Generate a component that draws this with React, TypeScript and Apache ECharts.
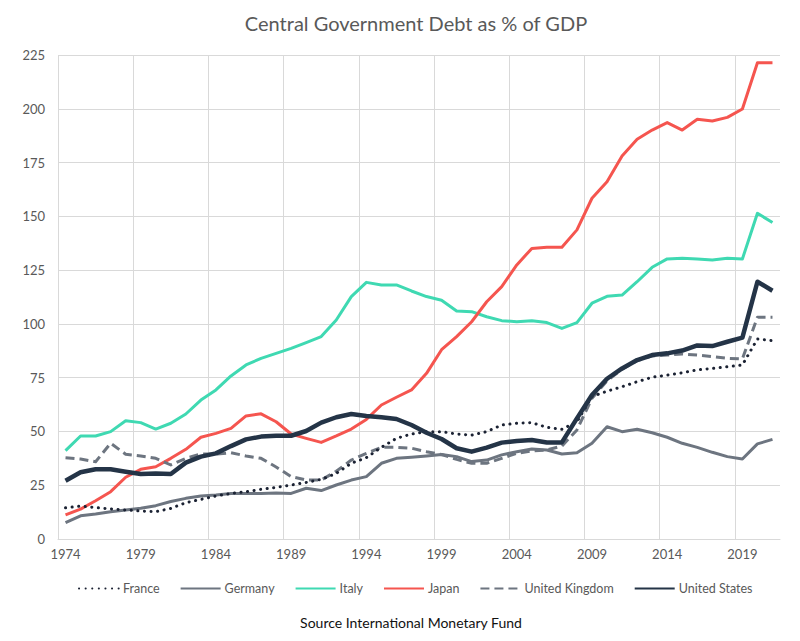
import React, { useEffect, useRef } from "react";
import * as echarts from "echarts";

const years = [
  "1974", "1975", "1976", "1977", "1978", "1979", "1980", "1981", "1982", "1983",
  "1984", "1985", "1986", "1987", "1988", "1989", "1990", "1991", "1992", "1993",
  "1994", "1995", "1996", "1997", "1998", "1999", "2000", "2001", "2002", "2003",
  "2004", "2005", "2006", "2007", "2008", "2009", "2010", "2011", "2012", "2013",
  "2014", "2015", "2016", "2017", "2018", "2019", "2020", "2021",
];

const france = [
  14.5, 15.3, 14.6, 14.0, 13.5, 13.0, 12.7, 14.2, 16.9, 18.4,
  20.0, 21.2, 22.0, 23.1, 24.0, 25.1, 26.3, 27.7, 30.5, 35.2,
  37.8, 42.6, 46.8, 48.8, 49.9, 49.9, 48.8, 48.3, 49.9, 53.0,
  53.8, 54.1, 51.9, 51.0, 54.5, 66.2, 68.7, 70.8, 73.1, 75.2,
  76.2, 77.3, 78.6, 79.3, 80.1, 80.9, 93.0, 92.2,
];

const germany = [
  7.6, 10.8, 11.6, 12.7, 13.5, 14.3, 15.5, 17.4, 18.9, 20.0,
  20.5, 21.2, 21.2, 21.2, 21.4, 21.2, 23.6, 22.5, 25.1, 27.4,
  29.0, 35.2, 37.5, 38.0, 38.6, 39.3, 38.3, 36.0, 36.7, 39.1,
  40.6, 41.8, 41.4, 39.5, 40.1, 44.5, 52.2, 49.9, 51.0, 49.4,
  47.3, 44.5, 42.6, 40.3, 38.3, 37.2, 44.2, 46.3,
];

const italy = [
  41.1, 47.9, 47.9, 49.9, 55.0, 54.1, 51.1, 53.8, 58.1, 64.6,
  69.3, 75.8, 80.9, 84.0, 86.3, 88.6, 91.3, 94.1, 101.8, 112.7,
  119.3, 118.1, 118.1, 115.3, 112.7, 111.0, 106.0, 105.7, 103.3, 101.5,
  101.0, 101.5, 100.6, 97.9, 100.6, 109.6, 112.8, 113.4, 119.6, 126.3,
  130.2, 130.5, 130.2, 129.7, 130.5, 130.2, 151.4, 147.1,
];

const japan = [
  11.2, 13.9, 17.8, 22.0, 28.7, 32.4, 33.6, 37.5, 41.7, 47.3,
  49.1, 51.4, 57.2, 58.2, 54.5, 48.8, 46.8, 44.9, 47.9, 51.1,
  55.6, 62.3, 65.9, 69.3, 77.0, 88.0, 94.1, 101.0, 110.3, 117.3,
  127.4, 135.1, 135.6, 135.6, 143.7, 158.4, 166.1, 178.1, 185.8, 190.1,
  193.6, 190.1, 195.1, 194.3, 196.0, 199.9, 221.4, 221.4,
];

const unitedKingdom = [
  37.8, 37.2, 35.9, 44.5, 39.4, 38.6, 37.5, 34.4, 37.5, 39.5,
  39.5, 40.1, 38.6, 37.5, 33.5, 29.0, 27.4, 27.4, 31.5, 36.7,
  39.8, 42.6, 42.6, 42.2, 40.6, 39.3, 37.0, 35.2, 35.2, 37.5,
  39.8, 40.9, 41.4, 43.2, 50.7, 65.4, 73.5, 78.9, 82.9, 85.1,
  85.5, 86.0, 85.5, 84.8, 84.0, 83.7, 103.1, 103.1,
];

const unitedStates = [
  27.1, 31.0, 32.4, 32.4, 31.3, 30.2, 30.5, 30.2, 35.5, 38.3,
  39.8, 43.2, 46.3, 47.6, 48.0, 48.0, 50.2, 54.1, 56.6, 58.1,
  57.2, 56.6, 55.8, 53.0, 49.4, 46.5, 42.2, 40.6, 42.5, 44.8,
  45.6, 46.0, 44.9, 44.9, 56.1, 66.9, 74.5, 79.3, 83.2, 85.5,
  86.3, 87.6, 90.0, 89.7, 91.7, 93.6, 119.6, 115.4,
];

const FONT = "Lato, 'Open Sans', sans-serif";
const TEXT = "#595959";
const GRID = "#d9d9d9";

export default function App() {
  const ref = useRef<HTMLDivElement>(null);

  useEffect(() => {
    if (!ref.current) return;
    const chart = echarts.init(ref.current, undefined, { renderer: "svg" });

    const mk = (name: string, data: number[], color: string, width: number, type: any, cap: any = "butt") => ({
      name,
      type: "line",
      data,
      symbol: "none",
      showSymbol: false,
      smooth: false,
      lineStyle: { color, width, type, cap, join: "round" },
      itemStyle: { color },
      emphasis: { disabled: true },
    });

    chart.setOption({
      animation: false,
      backgroundColor: "#ffffff",
      textStyle: { fontFamily: FONT },
      title: {
        text: "Central Government Debt as % of GDP",
        left: 411,
        textAlign: "center",
        top: 8,
        textStyle: { fontFamily: FONT, fontSize: 20, fontWeight: "normal", color: TEXT },
      },
      legend: {
        left: 73,
        top: 577,
        itemWidth: 40,
        itemHeight: 14,
        itemGap: 20,
        itemStyle: { color: "transparent", borderColor: "transparent", borderWidth: 0 },
        textStyle: { fontFamily: FONT, fontSize: 12.5, color: TEXT, padding: [0, 0, 0, -1] },
        data: ["France", "Germany", "Italy", "Japan", "United Kingdom", "United States"],
      },
      grid: { left: 58, right: 20, top: 55, bottom: 102, containLabel: false },
      xAxis: {
        type: "category",
        data: years,
        boundaryGap: true,
        axisLine: { show: true, lineStyle: { color: GRID, width: 1 } },
        axisTick: { show: false, interval: 4 },
        axisLabel: { interval: 4, color: TEXT, fontSize: 13, fontFamily: FONT, margin: 8 },
        splitLine: { show: true, interval: 4, showMaxLine: false, lineStyle: { color: GRID, width: 1 } },
      },
      yAxis: {
        type: "value",
        min: 0,
        max: 225,
        interval: 25,
        axisLine: { show: false },
        axisTick: { show: false },
        axisLabel: { color: TEXT, fontSize: 13, fontFamily: FONT, margin: 13 },
        splitLine: { show: true, lineStyle: { color: GRID, width: 1 } },
      },
      graphic: [
        {
          type: "text",
          x: 411,
          y: 622,
          style: {
            text: "Source International Monetary Fund",
            fontFamily: FONT,
            fontSize: 14,
            fill: "#111111",
            textAlign: "center",
            textVerticalAlign: "middle",
          },
        },
      ],
      series: [
        mk("Germany", germany, "#6d7580", 3, "solid"),
        mk("Italy", italy, "#3fd9b2", 3, "solid"),
        mk("Japan", japan, "#f5554f", 3, "solid"),
        mk("United Kingdom", unitedKingdom, "#6d7580", 3, [9, 5]),
        mk("France", france, "#1b2233", 3, [0.1, 6.5], "round"),
        mk("United States", unitedStates, "#243447", 4.5, "solid"),
      ],
    });

    return () => chart.dispose();
  }, []);

  return (
    <div
      ref={ref}
      style={{ position: "fixed", left: 0, top: 0, width: 800, height: 641, background: "#fff" }}
    />
  );
}
